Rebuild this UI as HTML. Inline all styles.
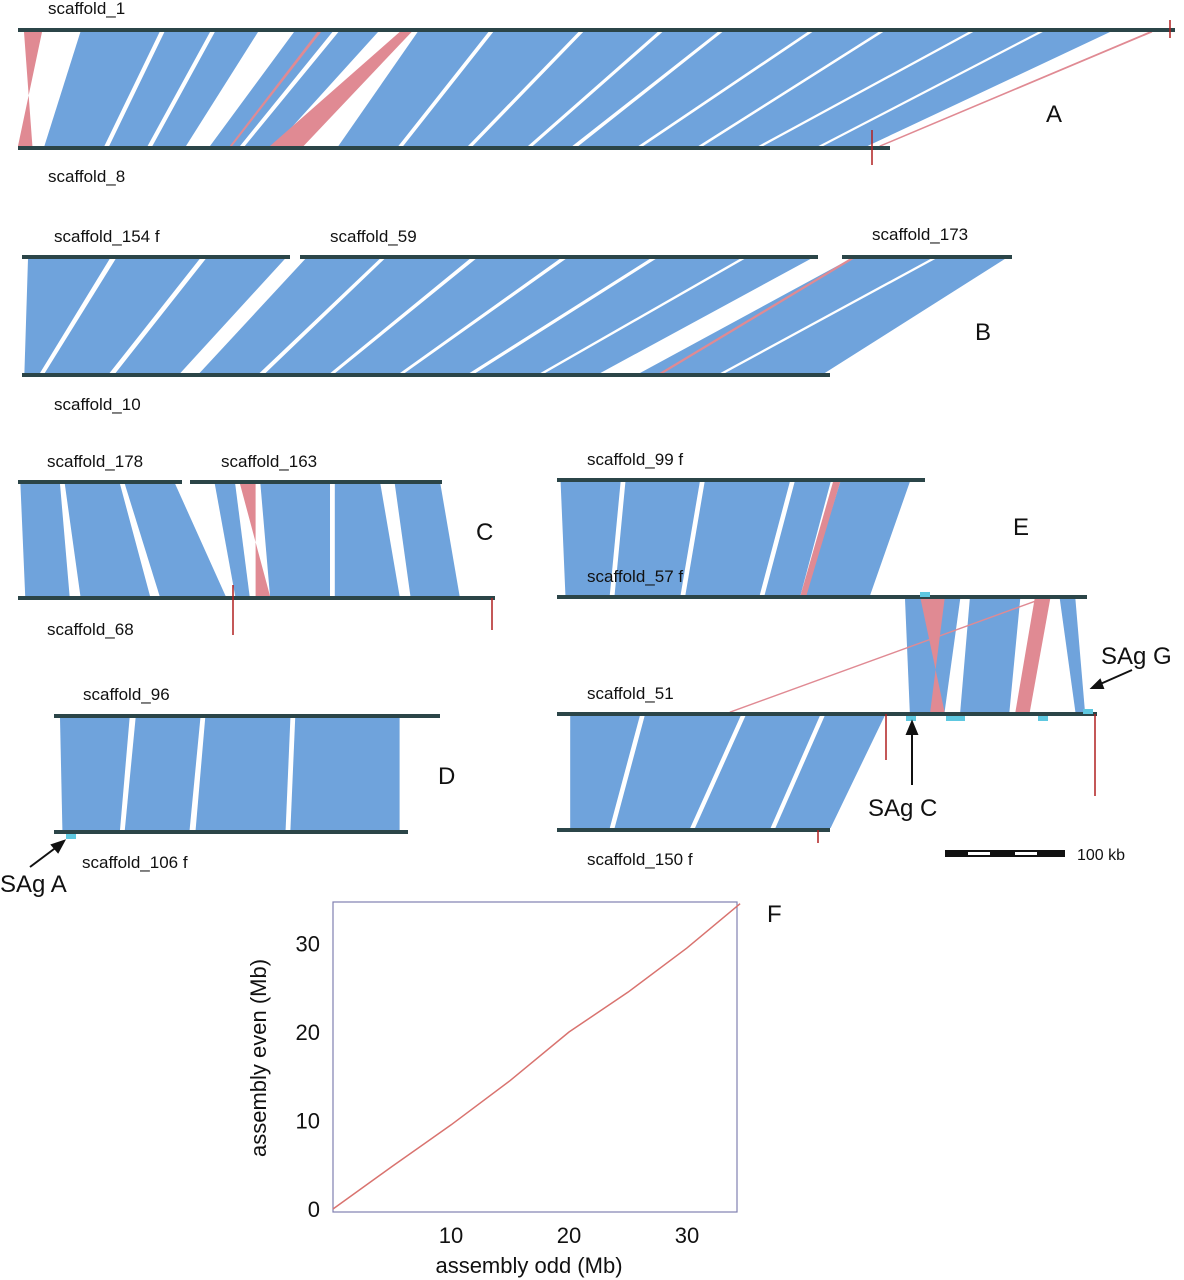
<!DOCTYPE html>
<html><head><meta charset="utf-8"><style>
html,body{margin:0;padding:0;background:#fff;}
svg{display:block;font-family:"Liberation Sans",Arial,sans-serif;}
</style></head><body>
<svg id="fig" width="1184" height="1280" viewBox="0 0 1184 1280" xmlns="http://www.w3.org/2000/svg">
<g id="bands"></g>
<g id="lines"></g>
<g font-size="17" fill="#111">
<text x="48" y="14">scaffold_1</text>
<text x="48" y="182">scaffold_8</text>
<text x="54" y="242">scaffold_154 f</text>
<text x="330" y="242">scaffold_59</text>
<text x="872" y="240">scaffold_173</text>
<text x="54" y="410">scaffold_10</text>
<text x="47" y="467">scaffold_178</text>
<text x="221" y="467">scaffold_163</text>
<text x="47" y="635">scaffold_68</text>
<text x="83" y="700">scaffold_96</text>
<text x="82" y="868">scaffold_106 f</text>
<text x="587" y="465">scaffold_99 f</text>
<text x="587" y="582">scaffold_57 f</text>
<text x="587" y="699">scaffold_51</text>
<text x="587" y="865">scaffold_150 f</text>
</g>
<g font-size="24" fill="#111">
<text x="1046" y="122">A</text>
<text x="975" y="340">B</text>
<text x="476" y="540">C</text>
<text x="438" y="784">D</text>
<text x="1013" y="535">E</text>
<text x="767" y="922">F</text>
<text x="1101" y="664">SAg G</text>
<text x="868" y="816">SAg C</text>
<text x="0" y="892">SAg A</text>
</g>
<g stroke="#111" stroke-width="2" fill="#111">
<line x1="1132" y1="670" x2="1098" y2="685"/><polygon points="1092,688 1100,680 1103,688"/>
<line x1="912" y1="785" x2="912" y2="732"/><polygon points="912,722 907,734 917,734"/>
<line x1="30" y1="867" x2="58" y2="846"/><polygon points="64,841 52,845 58,852"/>
</g>
<g>
<rect x="945" y="850" width="120" height="7" fill="#111"/>
<rect x="968" y="852" width="22" height="3" fill="#fff"/><rect x="1015" y="852" width="22" height="3" fill="#fff"/>
<text x="1077" y="860" font-size="16" fill="#111">100 kb</text>
</g>
<g id="plotF">
<rect x="333" y="902" width="404" height="310" fill="none" stroke="#8080b0" stroke-width="1.2"/>
<text x="529" y="1273" font-size="22" text-anchor="middle" fill="#111">assembly odd (Mb)</text>
<text transform="translate(266,1058) rotate(-90)" font-size="22" text-anchor="middle" fill="#111">assembly even (Mb)</text>
<g id="ticks" font-size="22" fill="#111"></g>
</g>
<script>
const NS="http://www.w3.org/2000/svg";
const S=1.2; // px per kb
const BLUE="#6fa3dc", RED="#e08a93";
// bands [topStart, topEnd, botStart, botEnd] in kb
const bandsA=[[52,118,22,72],[122,160,76,108],[164,200,112,140],[230,262,160,185],[267,300,189,214],[333,392,267,317],[396,467,321,375],[471,533,379,425],[537,583,429,462],[587,658,467,517],[662,717,521,567],[721,792,571,617],[796,850,621,667],[854,910,671,708]];
const redA=[[5,20,12,0],[318,328,210,238],[250,252,177,178],[943,945,718,719]];
const bandsB=[[5,73,2,15],[78,148,19,73],[153,219,78,132],[236,298,148,198],[302,373,203,257],[378,448,261,315],[453,523,319,373],[528,598,378,432],[602,657,436,482],[690,757,515,582],[761,819,586,669]];
const redB=[[690,692,532,534]];
const bandsC=[[2,35,6,43],[39,85,52,110],[89,131,118,173],[164,181,181,193],[202,260,210,260],[264,302,264,318],[314,352,327,368]];
const redC=[[185,198,210,198]];
const bandsD=[[5,63,7,55],[68,122,59,113],[126,197,118,193],[201,288,197,288]];
const bandsE1=[[3,53,7,44],[57,119,48,103],[123,194,107,169],[198,228,173,203],[236,294,207,261]];
const redE1=[[230,236,203,208]];
const bandsE2=[[290,336,294,323],[344,386,336,377],[419,432,432,440]];
const redE2=[[303,323,323,311],[398,411,382,394],[403,404,144,145]];
const bandsE3=[[11,69,11,44],[73,153,48,111],[157,219,115,178],[223,273,182,228]];
const oddMb=[0,5,10,15,20,25,30,34.5];
const evenMb=[0,4.8,9.5,14.5,20,24.5,29.5,34.5];
const xTicks=[10,20,30];
const yTicks=[0,10,20,30];

const gB=document.getElementById('bands'), gL=document.getElementById('lines');
function band(b,x0,y0,x1,y1,color,name){
  const p=document.createElementNS(NS,'polygon');
  const a=x0+b[0]*S,bb=x0+b[1]*S,c=x1+b[2]*S,d=x1+b[3]*S;
  p.setAttribute('points',`${a},${y0} ${bb},${y0} ${d},${y1} ${c},${y1}`);
  p.setAttribute('fill',color);
  if(color===RED&&Math.abs(b[1]-b[0])<3){p.setAttribute('stroke',RED);p.setAttribute('stroke-width','1');}
  
  
  gB.appendChild(p);
}
function panel(bl,rl,x0,y0,x1,y1,name){
  bl.forEach(b=>band(b,x0,y0+2,x1,y1-2,BLUE,name+'-band'));
  (rl||[]).forEach(b=>band(b,x0,y0+2,x1,y1-2,RED,name+'-inversion'));
}
function line(xa,xb,y,name){
  const r=document.createElementNS(NS,'rect');
  r.setAttribute('x',xa);r.setAttribute('y',y-2);r.setAttribute('width',xb-xa);r.setAttribute('height',4);
  r.setAttribute('fill','#2b4548');
  
  
  gL.appendChild(r);
}
panel(bandsA,redA,18,30,18,148,'panel-a');
panel(bandsB,redB,22,257,22,375,'panel-b');
panel(bandsC,redC,18,482,18,598,'panel-c');
panel(bandsD,[],54,716,54,832,'panel-d');
panel(bandsE1,redE1,557,480,557,597,'panel-e1');
panel(bandsE2,redE2,557,597,557,714,'panel-e2');
panel(bandsE3,[],557,714,557,830,'panel-e3');
line(18,1175,30,'scaffold-1-line');line(18,890,148,'scaffold-8-line');
line(22,290,257,'scaffold-154f-line');line(300,818,257,'scaffold-59-line');line(842,1012,257,'scaffold-173-line');line(22,830,375,'scaffold-10-line');
line(18,182,482,'scaffold-178-line');line(190,442,482,'scaffold-163-line');line(18,495,598,'scaffold-68-line');
line(54,440,716,'scaffold-96-line');line(54,408,832,'scaffold-106f-line');
line(557,925,480,'scaffold-99f-line');line(557,1087,597,'scaffold-57f-line');line(557,1097,714,'scaffold-51-line');line(557,830,830,'scaffold-150f-line');
[[872,130,165],[1170,20,38],[233,585,635],[492,598,630],[886,714,760],[1095,714,796],[818,830,843]].forEach(s=>{
  const l=document.createElementNS(NS,'line');
  l.setAttribute('x1',s[0]);l.setAttribute('x2',s[0]);l.setAttribute('y1',s[1]);l.setAttribute('y2',s[2]);
  l.setAttribute('stroke','#b02020');l.setAttribute('stroke-width','1.5');
  
  
  gL.appendChild(l);
});
[[920,592],[906,716],[946,716],[955,716],[1038,716],[1083,709],[66,834]].forEach(s=>{
  const r=document.createElementNS(NS,'rect');
  r.setAttribute('x',s[0]);r.setAttribute('y',s[1]);r.setAttribute('width',10);r.setAttribute('height',5);
  r.setAttribute('fill','#5ec8e0');
  
  
  gL.appendChild(r);
});
const fx=v=>333+v*11.8, fy=v=>1209-v*8.85;
const pl=document.createElementNS(NS,'polyline');
pl.setAttribute('points',oddMb.map((v,i)=>fx(v)+','+fy(evenMb[i])).join(' '));
pl.setAttribute('fill','none');pl.setAttribute('stroke','#d9736f');pl.setAttribute('stroke-width','1.5');


document.getElementById('plotF').appendChild(pl);
const gT=document.getElementById('ticks');
xTicks.forEach(v=>{const t=document.createElementNS(NS,'text');t.setAttribute('x',fx(v));t.setAttribute('y',1243);t.setAttribute('text-anchor','middle');t.textContent=v;
  
  
  gT.appendChild(t);});
yTicks.forEach(v=>{const t=document.createElementNS(NS,'text');t.setAttribute('x',320);t.setAttribute('y',fy(v)+8);t.setAttribute('text-anchor','end');t.textContent=v;
  
  
  gT.appendChild(t);});
</script>
</svg>
</body></html>
